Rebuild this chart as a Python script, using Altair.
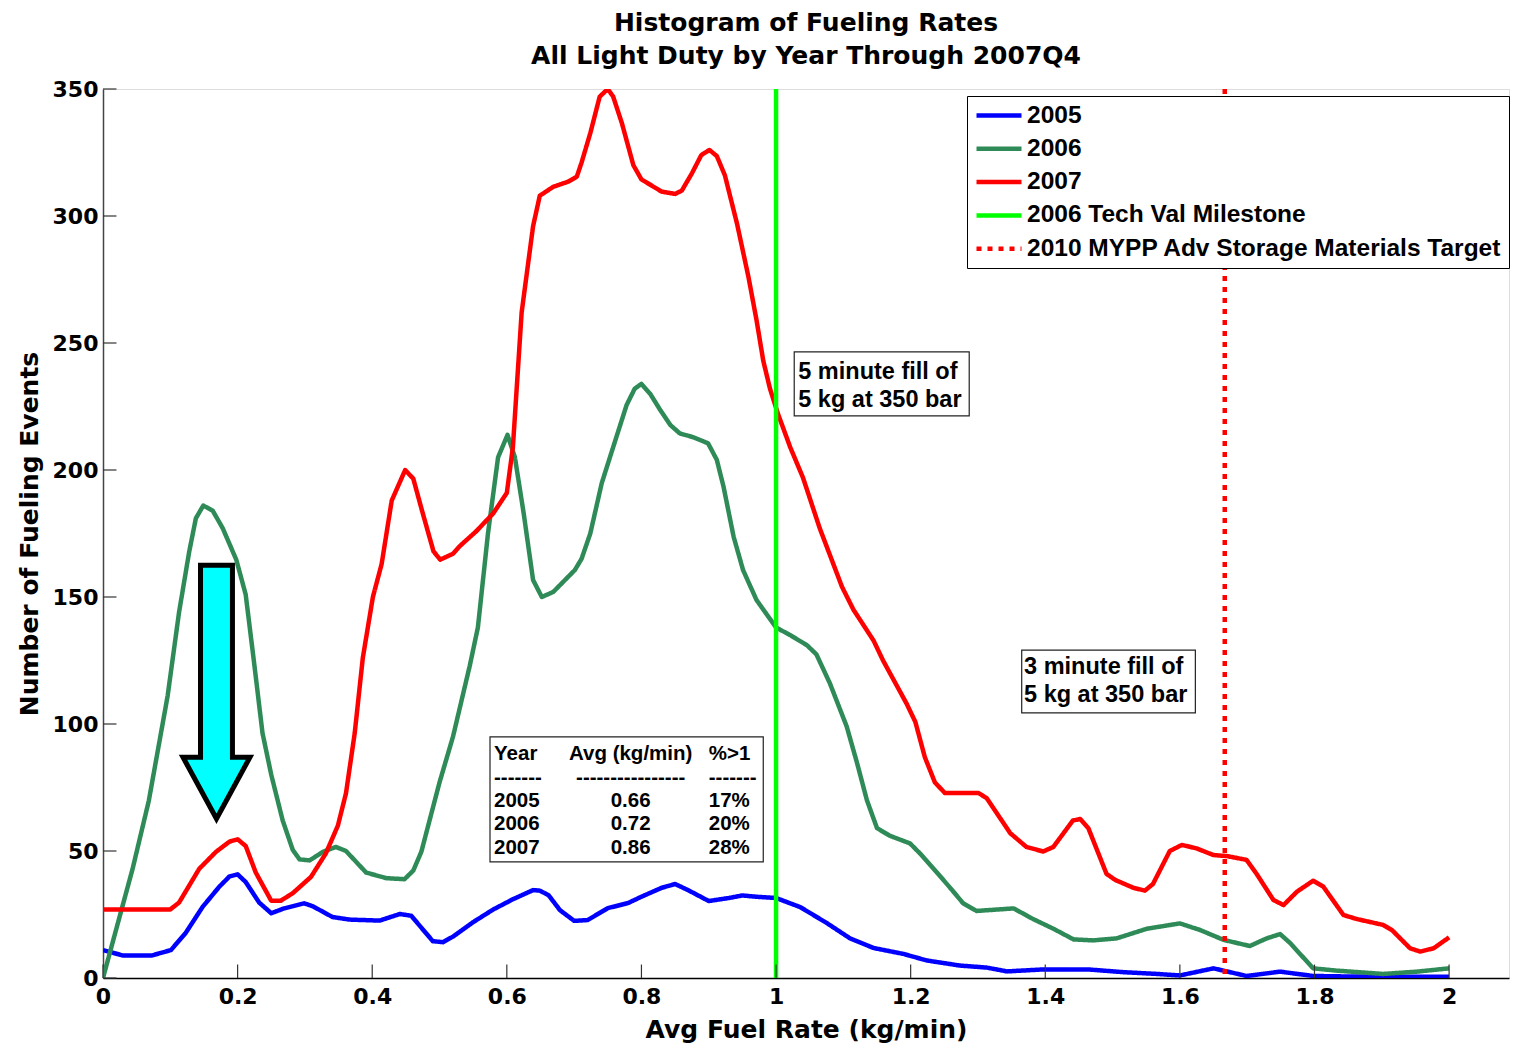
import altair as alt
import pandas as pd

AX_FONT = "DejaVu Sans"
TXT_FONT = "Liberation Sans"

# ---------------- data ----------------
X_2005 = [0, .029, .073, .101, .123, .148, .173, .188, .2, .212, .232, .250, .269, .299, .312,
          .341, .366, .411, .441, .458, .490, .505, .520, .550, .580, .609, .639, .649, .662,
          .679, .70, .72, .75, .78, .80, .83, .85, .87, .90, .93, .95, .97, 1.0, 1.036, 1.075,
          1.110, 1.145, 1.189, 1.224, 1.273, 1.313, 1.343, 1.392, 1.467, 1.516, 1.566, 1.600,
          1.650, 1.699, 1.749, 1.798, 1.85, 1.9, 1.95, 2.0]
Y_2005 = [11, 8.9, 8.9, 11, 17.8, 28, 36, 40, 40.8, 37.8, 29.7, 25.5, 27.4, 29.4, 28.2,
          24, 23, 22.6, 25.2, 24.5, 14.5, 14.1, 16.3, 22, 27, 31, 34.6, 34.4, 32.6,
          26.7, 22.5, 22.8, 27.5, 29.5, 32, 35.5, 37, 34.5, 30.3, 31.5, 32.5, 32, 31.5, 27.9, 21.7,
          15.6, 11.8, 9.5, 6.9, 4.9, 4.1, 2.6, 3.3, 3.3, 2.3, 1.6, 1.0,
          3.8, 0.8, 2.5, 0.8, 0.6, 0.5, 0.5, 0.5]

X_2006 = [0, .044, .068, .096, .113, .128, .138, .149, .163, .178, .198, .212, .225, .237, .250,
          .267, .282, .292, .307, .327, .346, .361, .391, .421, .448, .461, .473, .500, .520,
          .545, .557, .572, .587, .601, .612, .625, .639, .652, .669, .701, .711, .724, .741,
          .758, .778, .790, .800, .813, .828, .843, .857, .877, .899, .912, .922, .937, .951,
          .971, 1.0, 1.021, 1.046, 1.060, 1.080, 1.105, 1.120, 1.135, 1.150, 1.169, 1.199,
          1.214, 1.244, 1.261, 1.278, 1.298, 1.353, 1.382, 1.412, 1.442, 1.471, 1.506, 1.551,
          1.600, 1.630, 1.665, 1.704, 1.729, 1.749, 1.764, 1.798, 1.833, 1.902, 1.952, 2.0]
Y_2006 = [0, 43, 69.7, 111, 144, 167.7, 181, 186, 184, 177, 164.7, 151, 123, 96.4, 80,
          62, 50.4, 46.7, 46.3, 49.7, 51.6, 50, 41.5, 39.3, 38.9, 42.3, 49.7, 77, 95,
          123, 138, 175, 205, 213.8, 205, 183, 156.7, 150, 152, 160.6, 165, 175, 194.8,
          209, 225.6, 232, 233.9, 230, 223.6, 217.7, 214.4, 212.9, 210.5, 204, 193.4, 173.7, 160.6,
          148.8, 138, 135, 131, 127.4, 116, 99, 85, 70, 59, 56, 53,
          49, 40, 34.8, 29.4, 26.4, 27.4, 23.2, 19.4, 15.2, 14.8, 15.6, 19.4,
          21.5, 18.9, 15, 12.6, 15.6, 17.3, 13.7, 3.8, 2.9, 1.6, 2.5, 3.8]

X_2007 = [0, 0.10, 0.113, 0.143, 0.168, 0.188, 0.2, 0.212, 0.227, 0.25, 0.264, 0.282, 0.309,
          0.331, 0.349, 0.361, 0.374, 0.386, 0.401, 0.414, 0.429, 0.449, 0.461, 0.474, 0.491,
          0.501, 0.52, 0.53, 0.555, 0.58, 0.600, 0.609, 0.622, 0.639, 0.649, 0.669, 0.691,
          0.704, 0.711, 0.724, 0.738, 0.750, 0.758, 0.771, 0.788, 0.800, 0.830, 0.850, 0.860,
          0.875, 0.889, 0.901, 0.912, 0.924, 0.942, 0.959, 0.971, 0.981, 0.991, 1.003, 1.021,
          1.040, 1.065, 1.098, 1.115, 1.145, 1.159, 1.194, 1.207, 1.221, 1.236, 1.251, 1.301,
          1.313, 1.348, 1.372, 1.397, 1.412, 1.441, 1.452, 1.464, 1.491, 1.504, 1.531, 1.548,
          1.560, 1.585, 1.603, 1.625, 1.650, 1.670, 1.699, 1.714, 1.739, 1.754, 1.774, 1.798,
          1.813, 1.843, 1.863, 1.902, 1.915, 1.942, 1.957, 1.977, 2.0]
Y_2007 = [27, 27, 29.7, 43, 49.7, 53.7, 54.6, 52, 41.5, 30.4, 30.4, 33.4, 39.8,
          49, 60, 72.7, 96.4, 126, 150, 163, 188, 200, 196.6, 184, 168,
          164.7, 167, 170, 176, 183, 191, 209, 262, 296, 308, 311.5, 313.5,
          315.5, 321, 332.6, 347, 350, 347, 336.5, 320, 314.4, 309.6, 308.7, 310,
          316.8, 324, 326, 323.6, 316, 297, 276, 259, 243, 232, 222, 209,
          197, 177, 154, 145, 132.8, 125, 108, 100.8, 87, 77, 72.8, 72.8,
          70.8, 57, 51.6, 49.8, 51.6, 62, 62.6, 59, 41, 38.6, 35.5, 34.4,
          37, 50, 52.4, 51, 48.4, 48, 46.5, 41, 30.7, 28.7, 34, 38.3,
          36, 24.8, 23.2, 20.9, 18.9, 11.7, 10.4, 11.7, 16]

SERIES = ["2005", "2006", "2007", "2006 Tech Val Milestone",
          "2010 MYPP Adv Storage Materials Target"]
SERIES_COLORS = ["#0000FF", "#2E8B57", "#FF0000", "#00FF00", "#FF0000"]
SERIES_DASH = [[1, 0], [1, 0], [1, 0], [1, 0], [5, 6]]

REF_X = [1.0, 5 / 3]
REF_NAMES = SERIES[3:]

X_TICKS = [0, 0.2, 0.4, 0.6, 0.8, 1.0, 1.2, 1.4, 1.6, 1.8, 2.0]
Y_TICKS = [0, 50, 100, 150, 200, 250, 300, 350]

TABLE_YEAR = ["Year", "-------", "2005", "2006", "2007"]
TABLE_AVG = ["Avg (kg/min)", "----------------", "0.66", "0.72", "0.86"]
TABLE_PCT = ["%>1", "-------", "17%", "20%", "28%"]
TABLE_ROW_Y = [88.2, 78.7, 69.7, 60.6, 51.2]

NOTE_TEXT = ["5 minute fill of", "5 kg at 350 bar", "3 minute fill of", "5 kg at 350 bar"]
NOTE_X = [1.033, 1.033, 1.3685, 1.3685]
NOTE_Y = [238.7, 227.6, 122.3, 111.4]

BOX_X1 = [0.575, 1.027, 1.365]
BOX_X2 = [0.981, 1.287, 1.623]
BOX_Y1 = [45.7, 221.3, 104.4]
BOX_Y2 = [94.9, 246.5, 129.1]

ARROW_X = [0.1686]
ARROW_Y = [112.6]

# ---------------- frames ----------------
curves = pd.concat([
    pd.DataFrame({"rate": X_2005, "count": Y_2005, "series": "2005"}),
    pd.DataFrame({"rate": X_2006, "count": Y_2006, "series": "2006"}),
    pd.DataFrame({"rate": X_2007, "count": Y_2007, "series": "2007"}),
], ignore_index=True)
refs = pd.DataFrame({"rate": REF_X, "series": REF_NAMES})
xticks = pd.DataFrame({"v": X_TICKS})
yticks = pd.DataFrame({"v": Y_TICKS})
table = pd.DataFrame({"year": TABLE_YEAR, "avg": TABLE_AVG, "pct": TABLE_PCT, "y": TABLE_ROW_Y})
notes = pd.DataFrame({"t": NOTE_TEXT, "x": NOTE_X, "y": NOTE_Y})
boxes = pd.DataFrame({"x1": BOX_X1, "x2": BOX_X2, "y1": BOX_Y1, "y2": BOX_Y2})
arrow = pd.DataFrame({"x": ARROW_X, "y": ARROW_Y})

x_scale = alt.Scale(domain=[0, 2.089], nice=False, zero=False)
y_scale = alt.Scale(domain=[0, 350], nice=False)

x_axis = alt.Axis(values=X_TICKS, format="~g", tickSize=0, grid=False, domainColor="black",
                  domainWidth=1.5, labelFont=AX_FONT, labelFontSize=22, labelFontWeight="bold",
                  labelColor="black", labelPadding=8, labelFlush=False, labelOverlap=False,
                  title="Avg Fuel Rate (kg/min)", titleFont=AX_FONT, titleFontSize=25,
                  titleFontWeight="bold", titleColor="black", titlePadding=10)
y_axis = alt.Axis(values=Y_TICKS, format="d", tickSize=0, grid=False, domainColor="#444",
                  domainWidth=1.5, labelFont=AX_FONT, labelFontSize=22, labelFontWeight="bold",
                  labelColor="black", labelPadding=5, labelFlush=False, labelOverlap=False,
                  title="Number of Fueling Events", titleFont=AX_FONT, titleFontSize=25,
                  titleFontWeight="bold", titleColor="black", titlePadding=10)

legend = alt.Legend(title=None, orient="none", legendX=864, legendY=7,
                    fillColor="white", strokeColor="black", padding=7, cornerRadius=0,
                    labelFont=TXT_FONT, labelFontSize=24.5, labelFontWeight="bold",
                    labelColor="black", labelLimit=700, labelOffset=28,
                    symbolType="M-1,0L3.5,0", symbolSize=400, symbolStrokeWidth=4.5,
                    rowPadding=8.3)

color = alt.Color("series:N", scale=alt.Scale(domain=SERIES, range=SERIES_COLORS), legend=legend)
dash = alt.StrokeDash("series:N", scale=alt.Scale(domain=SERIES, range=SERIES_DASH), legend=legend)

lines = alt.Chart(curves).mark_line(strokeWidth=4.5, clip=True, strokeJoin="round").encode(
    x=alt.X("rate:Q", scale=x_scale, axis=x_axis),
    y=alt.Y("count:Q", scale=y_scale, axis=y_axis),
    color=color, strokeDash=dash,
)

rules = alt.Chart(refs).mark_rule(strokeWidth=4.5).encode(
    x=alt.X("rate:Q", scale=x_scale), color=color, strokeDash=dash,
)

xtick_marks = alt.Chart(xticks).mark_rule(color="#333", strokeWidth=1.2).encode(
    x=alt.X("v:Q", scale=x_scale), y=alt.datum(0), y2=alt.datum(5.3),
)
ytick_marks = alt.Chart(yticks).mark_rule(color="#333", strokeWidth=1.2).encode(
    y=alt.Y("v:Q", scale=y_scale), x=alt.datum(0), x2=alt.datum(0.02),
)

box_marks = alt.Chart(boxes).mark_rect(fill="white", stroke="#222", strokeWidth=1.2).encode(
    x="x1:Q", x2="x2", y="y1:Q", y2="y2",
)

note_marks = alt.Chart(notes).mark_text(align="left", baseline="middle", font=TXT_FONT,
                                        fontSize=23.5, fontWeight="bold", color="black").encode(
    x="x:Q", y="y:Q", text="t:N",
)

tbl_year = alt.Chart(table).mark_text(align="left", baseline="middle", font=TXT_FONT,
                                      fontSize=20.5, fontWeight="bold", color="black").encode(
    x=alt.datum(0.581), y="y:Q", text="year:N")
tbl_avg = alt.Chart(table).mark_text(align="center", baseline="middle", font=TXT_FONT,
                                     fontSize=20.5, fontWeight="bold", color="black").encode(
    x=alt.datum(0.784), y="y:Q", text="avg:N")
tbl_pct = alt.Chart(table).mark_text(align="left", baseline="middle", font=TXT_FONT,
                                     fontSize=20.5, fontWeight="bold", color="black").encode(
    x=alt.datum(0.900), y="y:Q", text="pct:N")

ARROW_PATH = "M-0.126,-1L0.126,-1L0.126,0.515L0.264,0.515L0,1L-0.264,0.515L-0.126,0.515Z"
arrow_mark = alt.Chart(arrow).mark_point(shape=ARROW_PATH, size=64262, filled=True,
                                         fill="#00FFFF", stroke="black", strokeWidth=5,
                                         opacity=1, strokeJoin="miter").encode(
    x="x:Q", y="y:Q",
)

chart = alt.layer(
    lines, rules, xtick_marks, ytick_marks, box_marks, note_marks,
    tbl_year, tbl_avg, tbl_pct, arrow_mark,
).properties(
    width=1406, height=889,
    padding={"left": 95, "top": 81, "right": 1, "bottom": 66},
    autosize=alt.AutoSizeParams(type="none"),
    title=alt.TitleParams(
        text=["Histogram of Fueling Rates", "All Light Duty by Year Through 2007Q4"],
        font=AX_FONT, fontSize=25, fontWeight="bold", color="black",
        lineHeight=33, anchor="middle", frame="group", offset=9,
    ),
).configure_view(strokeWidth=0).configure(background="white")

chart.save("out.html", embed_options={"renderer": "svg", "actions": False})
